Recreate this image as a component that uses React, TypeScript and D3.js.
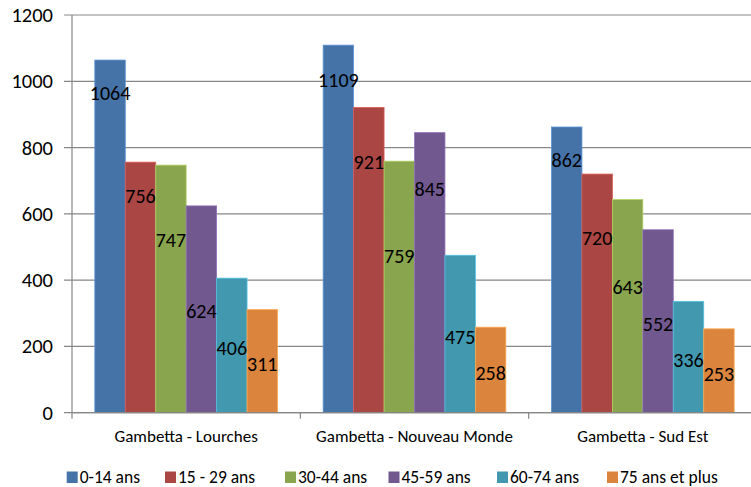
import React from "react";
import * as d3 from "d3";

const categories = ["Gambetta - Lourches", "Gambetta - Nouveau Monde", "Gambetta - Sud Est"];
const seriesNames = ["0-14 ans", "15 - 29 ans", "30-44 ans", "45-59 ans", "60-74 ans", "75 ans et plus"];
const seriesColors = ["#4572A7", "#AA4643", "#89A54E", "#71588F", "#4198AF", "#DB843D"];

// values per category, one entry per age group
const lourches = [1064, 756, 747, 624, 406, 311];
const nouveauMonde = [1109, 921, 759, 845, 475, 258];
const sudEst = [862, 720, 643, 552, 336, 253];
const values = [lourches, nouveauMonde, sudEst];

// where each data label sits (in data units, the labels were moved by hand)
const labelsLourches = [963, 652, 521, 305, 194, 147];
const labelsNouveauMonde = [1004, 755, 471, 674, 228, 119];
const labelsSudEst = [762, 526, 380, 268, 159, 117];
const labelAt = [labelsLourches, labelsNouveauMonde, labelsSudEst];

const yTicks = [0, 200, 400, 600, 800, 1000, 1200];

const W = 751;
const H = 487;
const left = 72;
const right = 757;
const top = 15;
const bottom = 412.7;
const legendX = [66.7, 165, 285, 388.5, 497, 607];
const font = "Carlito, Lato, sans-serif";
const gridColor = "#878787";

export default function App() {
  const x0 = d3.scaleBand().domain(categories).range([left, right]).paddingInner(0).paddingOuter(0);
  const x1 = d3
    .scaleBand()
    .domain(seriesNames)
    .range([0, x0.bandwidth()])
    .paddingInner(0)
    .paddingOuter(0.75);
  const y = d3.scaleLinear().domain([0, 1200]).range([bottom, top]);

  const catEdges = categories.map((c) => x0(c)).concat([right]);

  return (
    <svg
      width={W}
      height={H}
      style={{ position: "absolute", left: 0, top: 0, background: "#fff" }}
      fontFamily={font}
    >
      {/* grid + y ticks */}
      {yTicks.map((t) => (
        <g key={t}>
          <line x1={left - 8} x2={right} y1={y(t)} y2={y(t)} stroke={gridColor} strokeWidth={1.2} />
          <text x={53} y={y(t)} dy="0.34em" textAnchor="end" fontSize={20.5} fill="#000">
            {t}
          </text>
        </g>
      ))}
      {/* y axis */}
      <line x1={left} x2={left} y1={top} y2={bottom} stroke={gridColor} strokeWidth={1.2} />
      {/* x ticks */}
      {catEdges.map((e, i) => (
        <line key={i} x1={e} x2={e} y1={bottom} y2={bottom + 6} stroke={gridColor} strokeWidth={1.2} />
      ))}

      {/* bars */}
      {categories.map((c, ci) => (
        <g key={c} transform={`translate(${x0(c)},0)`}>
          {seriesNames.map((s, si) => {
            const v = values[ci][si];
            const col = seriesColors[si];
            return (
              <rect
                key={s}
                x={x1(s)}
                y={y(v)}
                width={x1.bandwidth()}
                height={bottom - y(v)}
                fill={col}
                stroke={d3.color(col).brighter(0.7).toString()}
                strokeWidth={0.8}
              />
            );
          })}
        </g>
      ))}
      {/* redraw axis line on top of bars */}
      <line x1={left} x2={right} y1={bottom} y2={bottom} stroke={gridColor} strokeWidth={1.2} />

      {/* data labels */}
      {categories.map((c, ci) => (
        <g key={c + "l"} transform={`translate(${x0(c)},0)`}>
          {seriesNames.map((s, si) => (
            <text
              key={s}
              x={x1(s) + x1.bandwidth() / 2}
              y={y(labelAt[ci][si])}
              dy="0.34em"
              textAnchor="middle"
              fontSize={20}
              fill="#000"
            >
              {values[ci][si]}
            </text>
          ))}
        </g>
      ))}

      {/* category labels */}
      {categories.map((c) => (
        <text key={c} x={x0(c) + x0.bandwidth() / 2} y={442} textAnchor="middle" fontSize={17} fill="#000">
          {c}
        </text>
      ))}

      {/* legend */}
      {seriesNames.map((s, i) => (
        <g key={s} transform={`translate(${legendX[i]},0)`}>
          <rect x={0} y={471.5} width={11} height={11.5} fill={seriesColors[i]} />
          <text x={13} y={483} fontSize={17.5} fill="#000">
            {s}
          </text>
        </g>
      ))}
    </svg>
  );
}
